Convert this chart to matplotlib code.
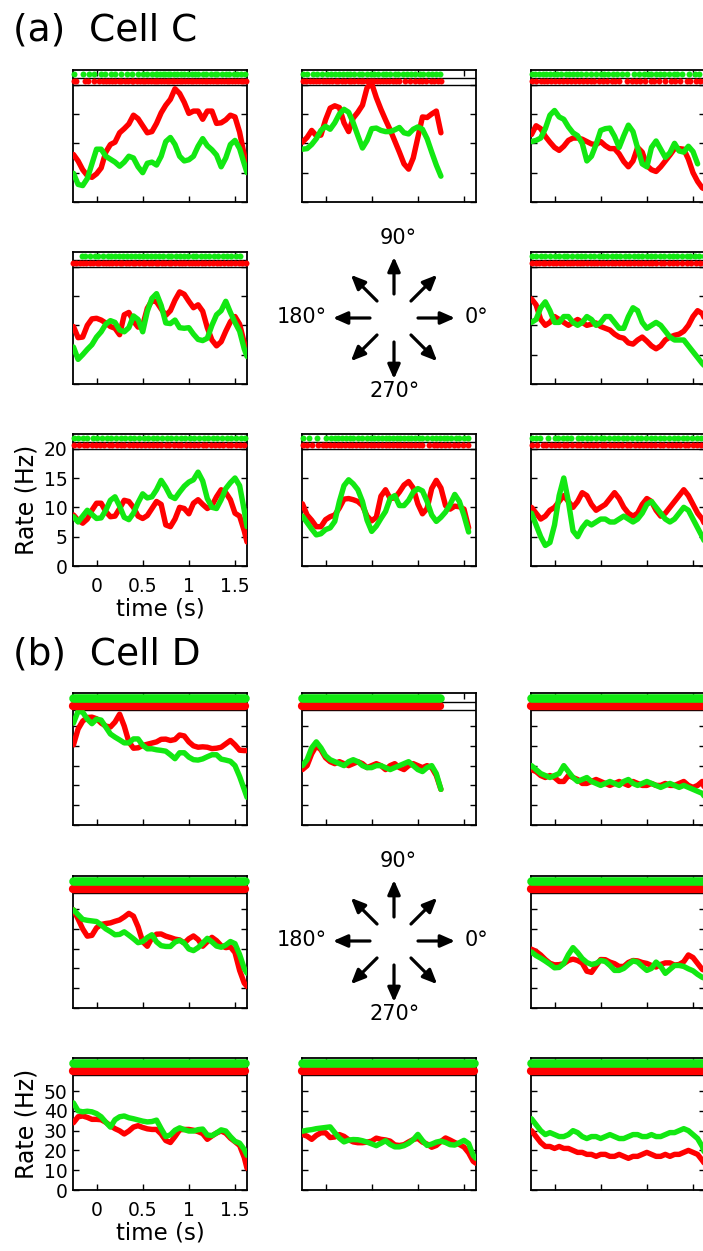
import matplotlib
matplotlib.use('Agg')
import matplotlib.pyplot as plt
import math

W, H = 703, 1251
RED = '#FF0000'
GREEN = '#12E812'

T = [-0.25, -0.2, -0.15, -0.1, -0.05, 0.0, 0.05, 0.1, 0.15, 0.2, 0.25, 0.3, 0.35, 0.4,
     0.45, 0.5, 0.55, 0.6, 0.65, 0.7, 0.75, 0.8, 0.85, 0.9, 0.95, 1.0, 1.05, 1.1, 1.15,
     1.2, 1.25, 1.3, 1.35, 1.4, 1.45, 1.5, 1.55, 1.6, 1.63]

x_ticks = [0, 0.5, 1, 1.5]
x_ticklabels = ['0', '0.5', '1', '1.5']
C_yticks = [0, 5, 10, 15, 20]
D_yticks = [0, 10, 20, 30, 40, 50]
direction_labels = ['0°', '90°', '180°', '270°']
directions = [0, 45, 90, 135, 180, 225, 270, 315]

# ---------------- Cell C : firing rates (Hz) ----------------
C_red = {
    135: [8.1, 7, 5.5, 4.5, 4.2, 4.8, 5.8, 8.5, 9.8, 10.2, 11.8, 12.5, 13.3, 14.8, 14.2, 13, 11.8, 12,
          13.4, 15.2, 16.5, 17.5, 19.3, 18.5, 17, 15.1, 15.5, 15.5, 14.1, 15.5, 15.5, 13.4, 13.5, 14,
          14.8, 14.5, 11.9, 8, 6],
    90: [10.2, 11, 12.2, 11.3, 11.4, 14, 16, 16.4, 16.1, 13.5, 12, 14.3, 15.3, 16.5, 19.5, 20.2, 17.8,
         15.8, 14, 12.3, 10.4, 8.5, 6.5, 5.6, 7.5, 11, 14.5, 14.4, 15, 15.5, 11.8],
    45: [11.5, 13.0, 12.5, 11.2, 10.2, 9.3, 8.8, 9.5, 10.5, 10.9, 10.9, 10.7, 10.3, 9.9, 9.8, 10.3, 9.6,
         9.1, 9.1, 8.2, 6.9, 6.0, 7.0, 9.3, 8.5, 6.2, 5.5, 5.2, 6.0, 7.0, 8.0, 9.1, 9.1, 9.0, 7.3, 5.0,
         3.5, 2.4, 2.2],
    180: [9.8, 7.9, 8.0, 10.0, 11.1, 11.2, 10.9, 10.4, 9.8, 9.5, 8.4, 11.8, 12.2, 10.7, 9.7, 10.0, 12.9,
          14.2, 14.0, 12.8, 11.7, 12.5, 14.3, 15.7, 15.3, 14.1, 13.0, 13.5, 12.4, 9.6, 7.5, 6.5, 7.2,
          9.0, 10.6, 11.5, 10.2, 7.0, 5.3],
    0: [14.5, 13.5, 11, 10, 10.5, 11.5, 11, 10.5, 10, 10.5, 11, 10.5, 10, 10.2, 10.4, 9.8, 9.5, 9.2,
        8.5, 8, 7.8, 7, 6.8, 7.5, 8, 7.3, 6.5, 6, 6.5, 7.5, 8, 8.3, 8.5, 9, 10, 11.5, 12.5, 12, 11],
    225: [8.7, 7.8, 7.3, 8.0, 9.5, 10.7, 10.7, 9.3, 8.4, 8.5, 9.8, 11.2, 11.0, 10.0, 8.5, 8.1, 8.6, 9.8,
          11.0, 10.5, 7.0, 6.7, 8.0, 10.0, 9.8, 8.9, 10.7, 11.3, 10.5, 9.8, 10.3, 11.8, 13.0, 12.5,
          11.3, 9.0, 8.5, 6.0, 4.1],
    270: [10.6, 8.7, 7.8, 6.7, 6.7, 7.9, 8.4, 8.7, 9.9, 11.4, 11.5, 11.3, 11.0, 10.3, 8.5, 7.7, 8.3,
          11.9, 13.0, 11.5, 11.6, 12.6, 13.8, 14.4, 13.3, 10.6, 8.9, 9.8, 13.2, 14.6, 13.3, 10.3, 9.7,
          10.2, 10.1, 9.7, 6.5],
    315: [10, 9, 8, 8.5, 9.5, 10, 11, 12, 11, 10, 11, 12.5, 12, 10.5, 9.5, 10, 10.5, 11.5, 12.5, 11.5,
          10, 9, 8.5, 9, 10.5, 11.5, 11, 9.5, 8.5, 9, 10, 11, 12, 13, 12, 10.5, 9, 8, 7],
}
C_green = {
    135: [4.9, 3.0, 2.8, 4.0, 6.5, 9.0, 9.0, 7.8, 7.3, 6.8, 6.1, 6.8, 7.8, 7.5, 6.0, 5.0, 6.6, 6.8, 6.3,
          7.8, 10.3, 11, 9.8, 7.8, 7.0, 7.2, 7.8, 9.5, 10.8, 9.6, 8.9, 8.0, 6.0, 7.5, 9.8, 10.5, 9.1,
          6.5, 5.0],
    90: [9.0, 9.1, 9.8, 10.8, 12.2, 12.9, 12.4, 13.5, 15, 15.8, 15.3, 13.5, 11.3, 9.2, 10.5, 12.5, 12.6,
         12.2, 12, 12, 12.3, 12.7, 11.8, 11.6, 12.4, 12.8, 12.4, 10.8, 8.5, 6.3, 4.4],
    45: [10.3, 10.5, 10.9, 12.5, 14.8, 15.6, 14.5, 14.1, 12.8, 11.8, 11.3, 10.0, 7.0, 7.8, 9.8, 12.2,
         12.5, 12.6, 11.2, 9.3, 11.3, 13.1, 12.0, 9.2, 6.5, 6.0, 9.3, 10.4, 9.0, 7.6, 8.4, 10.0, 8.7,
         8.5, 9.5, 8.6, 6.5],
    180: [6.3, 4.2, 5.0, 5.9, 6.7, 8.0, 8.9, 10.2, 10.8, 10.5, 9.2, 8.9, 9.6, 11.6, 11.0, 8.9, 12.4,
          14.6, 15.4, 13.4, 10.4, 10.3, 10.9, 9.6, 9.5, 9.6, 8.5, 7.6, 7.4, 7.8, 10.0, 11.8, 12.5, 14.1,
          12.2, 10.5, 9.0, 6.0, 4.7],
    0: [10.5, 11, 13, 14, 12.5, 10.5, 10.5, 11.5, 11.5, 10.5, 10, 10.5, 11.5, 11, 10, 10.5, 11.5, 11.5,
        10.5, 9.5, 9.5, 11.5, 13, 12.5, 10.5, 9.5, 10, 10.5, 10, 9, 8, 7.5, 7.5, 7.5, 6.5, 5.5, 4.5,
        3.5, 3],
    225: [8.4, 7.5, 8.5, 9.5, 8.8, 8.1, 8.2, 9.5, 11.2, 11.8, 10.2, 8.3, 7.9, 9.0, 10.8, 12.3, 11.6,
          11.8, 13.0, 14.6, 13.4, 11.9, 11.5, 12.6, 13.6, 14.3, 14.7, 16.0, 14.5, 11.5, 10.0, 9.8, 11.3,
          13.2, 14.2, 15.0, 13.7, 9.5, 6.7],
    270: [8.5, 7.4, 6.3, 5.3, 5.5, 6.2, 6.5, 7.6, 11.0, 13.7, 14.7, 14.0, 13.0, 11.0, 7.8, 5.9, 6.8,
          8.1, 9.3, 11.5, 12.0, 10.3, 10.3, 11.2, 12.6, 13.2, 12.8, 11.0, 8.7, 7.6, 8.3, 9.2, 10.5,
          12.2, 11.0, 8.6, 5.8],
    315: [9, 7, 5, 3.5, 4, 7, 12, 15, 11, 6, 5, 6.5, 7.5, 7, 7.5, 8, 8, 7.5, 7.5, 8, 8.5, 8, 7.5, 8, 9,
          10.5, 11, 10, 9, 8, 7.5, 8, 9, 10, 9.5, 8, 6.5, 5, 4],
}

# ---------------- Cell C : spike rasters (s) ----------------
C_red_spikes = {
    135: [-0.24, -0.22, -0.12, -0.09, -0.03, 0.03, 0.07, 0.1, 0.14, 0.17, 0.2, 0.24, 0.27, 0.31, 0.34,
          0.38, 0.4, 0.44, 0.47, 0.5, 0.53, 0.56, 0.59, 0.62, 0.64, 0.67, 0.7, 0.73, 0.76, 0.79, 0.82,
          0.84, 0.87, 0.9, 0.93, 0.96, 0.99, 1.02, 1.05, 1.08, 1.11, 1.14, 1.17, 1.2, 1.23, 1.26, 1.29,
          1.32, 1.35, 1.38, 1.41, 1.44, 1.47, 1.5, 1.53, 1.56, 1.59, 1.62],
    90: [-0.24, -0.21, -0.17, -0.14, -0.1, -0.07, -0.03, 0.0, 0.04, 0.07, 0.11, 0.14, 0.18, 0.21, 0.25,
         0.28, 0.31, 0.35, 0.38, 0.41, 0.45, 0.48, 0.5, 0.53, 0.56, 0.59, 0.62, 0.66, 0.69, 0.73, 0.76,
         0.8, 0.86, 0.92, 0.97, 1.01, 1.05, 1.09, 1.14, 1.18, 1.22, 1.25],
    45: [-0.24, -0.2, -0.15, -0.11, -0.08, -0.04, 0.01, 0.05, 0.09, 0.13, 0.18, 0.22, 0.26, 0.31, 0.35,
         0.39, 0.43, 0.48, 0.53, 0.57, 0.62, 0.66, 0.7, 0.78, 0.84, 0.88, 0.93, 0.98, 1.04, 1.08, 1.13,
         1.2, 1.26, 1.3, 1.36, 1.43, 1.47, 1.53, 1.58, 1.62],
    180: [-0.25, -0.22, -0.18, -0.15, -0.11, -0.07, -0.04, 0.0, 0.03, 0.07, 0.1, 0.14, 0.17, 0.21,
          0.25, 0.28, 0.32, 0.35, 0.39, 0.42, 0.46, 0.5, 0.53, 0.57, 0.6, 0.64, 0.67, 0.71, 0.74, 0.78,
          0.81, 0.85, 0.89, 0.93, 0.96, 1.0, 1.03, 1.07, 1.1, 1.14, 1.18, 1.22, 1.26, 1.3, 1.34, 1.38,
          1.42, 1.46, 1.5, 1.54, 1.58, 1.62],
    0: [-0.24, -0.2, -0.17, -0.13, -0.1, -0.06, -0.02, 0.02, 0.06, 0.09, 0.13, 0.17, 0.2, 0.24, 0.28,
        0.31, 0.35, 0.39, 0.43, 0.46, 0.5, 0.54, 0.58, 0.62, 0.66, 0.7, 0.74, 0.78, 0.82, 0.86, 0.9,
        0.94, 0.98, 1.02, 1.06, 1.1, 1.15, 1.19, 1.24, 1.28, 1.33, 1.38, 1.43, 1.48, 1.53, 1.58, 1.62],
    225: [-0.24, -0.19, -0.14, -0.1, -0.05, -0.01, 0.04, 0.08, 0.13, 0.17, 0.22, 0.26, 0.3, 0.35,
          0.39, 0.44, 0.48, 0.53, 0.57, 0.61, 0.66, 0.7, 0.75, 0.79, 0.84, 0.88, 0.92, 0.97, 1.01, 1.06,
          1.1, 1.15, 1.19, 1.24, 1.28, 1.33, 1.37, 1.42, 1.46, 1.51, 1.55, 1.6],
    270: [-0.24, -0.2, -0.15, -0.08, -0.03, 0.01, 0.05, 0.09, 0.13, 0.17, 0.21, 0.25, 0.29, 0.33,
          0.37, 0.41, 0.45, 0.49, 0.53, 0.57, 0.61, 0.65, 0.69, 0.73, 0.77, 0.81, 0.85, 0.89, 0.93,
          0.97, 1.01, 1.05, 1.12, 1.17, 1.21, 1.25, 1.29, 1.34, 1.39, 1.44, 1.49, 1.54],
    315: [-0.24, -0.19, -0.13, -0.09, -0.04, 0.0, 0.05, 0.1, 0.14, 0.19, 0.24, 0.28, 0.33, 0.37, 0.42,
          0.46, 0.51, 0.55, 0.6, 0.64, 0.69, 0.73, 0.78, 0.82, 0.87, 0.91, 0.96, 1.0, 1.05, 1.09, 1.14,
          1.18, 1.23, 1.27, 1.32, 1.36, 1.41, 1.45, 1.5, 1.54, 1.59, 1.62],
}
C_green_spikes = {
    135: [-0.24, -0.15, -0.08, -0.03, 0.05, 0.09, 0.16, 0.2, 0.27, 0.33, 0.38, 0.45, 0.5, 0.55, 0.6,
          0.64, 0.66, 0.69, 0.72, 0.74, 0.77, 0.8, 0.84, 0.87, 0.91, 0.95, 0.99, 1.03, 1.07, 1.1, 1.15,
          1.19, 1.24, 1.28, 1.31, 1.36, 1.4, 1.44, 1.49, 1.52, 1.57, 1.61],
    90: [-0.24, -0.2, -0.14, -0.09, -0.04, 0.02, 0.06, 0.1, 0.15, 0.19, 0.23, 0.27, 0.31, 0.36, 0.4,
         0.45, 0.49, 0.53, 0.57, 0.62, 0.66, 0.7, 0.75, 0.79, 0.84, 0.88, 0.93, 0.97, 1.02, 1.06, 1.11,
         1.15, 1.2, 1.24],
    45: [-0.24, -0.21, -0.17, -0.13, -0.09, -0.05, -0.01, 0.03, 0.07, 0.12, 0.16, 0.2, 0.24, 0.29,
         0.34, 0.4, 0.45, 0.5, 0.54, 0.58, 0.63, 0.68, 0.73, 0.79, 0.86, 0.92, 0.97, 1.01, 1.05, 1.1,
         1.14, 1.19, 1.24, 1.29, 1.33, 1.38, 1.46, 1.52, 1.56],
    180: [-0.16, -0.12, -0.07, -0.02, 0.02, 0.07, 0.12, 0.16, 0.2, 0.24, 0.29, 0.33, 0.37, 0.42, 0.46,
          0.5, 0.55, 0.59, 0.63, 0.68, 0.72, 0.77, 0.81, 0.86, 0.9, 0.95, 0.99, 1.04, 1.08, 1.13, 1.18,
          1.22, 1.27, 1.32, 1.37, 1.41, 1.46, 1.51, 1.55],
    0: [-0.24, -0.2, -0.15, -0.1, -0.05, 0.0, 0.05, 0.1, 0.14, 0.19, 0.24, 0.29, 0.33, 0.38, 0.43,
        0.48, 0.52, 0.57, 0.62, 0.67, 0.71, 0.76, 0.81, 0.86, 0.9, 0.95, 1.0, 1.05, 1.09, 1.14, 1.19,
        1.24, 1.28, 1.33, 1.38, 1.43, 1.47, 1.52, 1.57, 1.62],
    225: [-0.24, -0.2, -0.15, -0.1, -0.04, 0.01, 0.06, 0.11, 0.16, 0.21, 0.26, 0.31, 0.36, 0.41,
          0.46, 0.51, 0.56, 0.61, 0.66, 0.71, 0.76, 0.81, 0.86, 0.91, 0.96, 1.01, 1.06, 1.11, 1.16,
          1.21, 1.26, 1.31, 1.36, 1.41, 1.46, 1.51, 1.56, 1.61],
    270: [-0.24, -0.18, -0.09, 0.0, 0.06, 0.1, 0.14, 0.18, 0.22, 0.26, 0.3, 0.35, 0.4, 0.45, 0.49,
          0.53, 0.57, 0.61, 0.65, 0.69, 0.73, 0.77, 0.81, 0.85, 0.89, 0.93, 0.97, 1.01, 1.05, 1.1,
          1.15, 1.2, 1.24, 1.28, 1.32, 1.36, 1.41, 1.45, 1.5, 1.54],
    315: [-0.24, -0.2, -0.16, -0.07, 0.0, 0.04, 0.09, 0.14, 0.18, 0.25, 0.3, 0.35, 0.4, 0.45, 0.5,
          0.54, 0.59, 0.64, 0.69, 0.74, 0.79, 0.84, 0.89, 0.94, 0.99, 1.04, 1.09, 1.14, 1.19, 1.24,
          1.29, 1.34, 1.39, 1.44, 1.49, 1.54, 1.59],
}

# ---------------- Cell D : firing rates (Hz) ----------------
D_red = {
    135: [40.5, 48.5, 52.5, 54.3, 54.5, 53.7, 51.5, 50, 49.5, 52, 56, 50, 42, 38.8, 39, 40.2, 40.8,
          41.4, 42, 43.3, 43.4, 42.7, 43.2, 45.5, 45, 42, 40, 39.3, 39.5, 39.3, 38.6, 38.8, 39.3, 41,
          42.7, 40.5, 37.8, 37.6, 37.6],
    90: [28, 30, 36, 40, 38, 34, 32, 31, 32, 31, 30, 31, 32, 31, 29, 30, 31, 30, 28, 30, 31, 29, 28,
         30, 31, 30, 29, 30, 29, 25, 18],
    45: [28, 27, 25, 24, 25, 24, 22, 22, 25, 24, 23, 21, 21, 22, 23, 22, 21, 20, 21, 22, 21, 20, 22,
         21, 20, 20, 21, 20, 20, 21, 20, 20, 21, 22, 20, 19, 20, 22, 18],
    180: [49.6, 45, 40, 36.3, 36.7, 40.5, 42.2, 42.7, 43, 43.8, 44.5, 46, 47.8, 46.4, 41, 33.5, 31.2,
          35.5, 37.3, 37.4, 36.3, 35.6, 34.8, 34.4, 32.8, 35, 36.4, 34.6, 31.2, 33.5, 35.7, 34, 31.5,
          30.5, 30.9, 28, 19, 12.6, 10.9],
    0: [29.7, 28.6, 26.8, 24.5, 22.6, 21.8, 21.9, 22.4, 24, 24.7, 24, 22.7, 18.6, 18, 21.3, 24.5, 24.4,
        23.2, 22.4, 21, 21, 23, 24, 23.8, 23, 22.5, 21.5, 20.7, 22, 22.8, 22.8, 21.7, 22, 23.4, 26.8,
        25.5, 22.5, 19.5, 19],
    225: [34, 37, 37.4, 36.7, 35.7, 35.7, 35.5, 34.2, 32.5, 31, 29.9, 28.3, 29.8, 31.8, 32.5, 31.6,
          30.9, 30.6, 30.6, 28.3, 25, 24, 27, 30.4, 30.6, 30.6, 30.2, 29.5, 28.5, 25.6, 27.3, 28.8,
          29.8, 28.7, 26.2, 24.4, 22.5, 16.5, 11],
    270: [28.1, 27.2, 25.6, 27.6, 28.9, 28.9, 26.5, 26.8, 28, 27.1, 25.4, 24.3, 23.9, 23.9, 24.2,
          24.7, 26.2, 25.6, 25.3, 24.7, 22.8, 22.5, 22.9, 24.3, 25.5, 26.1, 24.2, 23.2, 21.6, 22.5,
          24.5, 26.3, 25.2, 24, 23, 21.7, 18.8, 14.5, 13.5],
    315: [30, 27, 24, 22, 22, 21, 22, 21, 21, 20, 19, 19, 18, 18, 17, 18, 18, 17, 17, 18, 17, 16, 17,
          17, 18, 19, 18, 17, 17, 18, 17, 18, 18, 19, 20, 19, 18, 15, 13],
}
D_green = {
    135: [51.5, 57.5, 57, 53.5, 51.2, 53.5, 53, 49.5, 46, 44.4, 43, 41.5, 41.5, 43.5, 43.5, 40.3,
          38.5, 38.5, 38, 37.7, 37.3, 35.5, 33.5, 36.5, 36.5, 34.3, 33, 32.8, 33.4, 34.5, 35.5, 35.5,
          33.3, 32.8, 32.2, 30, 24.5, 18, 14],
    90: [30, 33, 39, 42, 39, 35, 33, 32, 31, 30, 32, 33, 32, 30, 29, 29, 30, 30, 29, 28, 29, 30, 31,
         32, 30, 28, 27, 29, 30, 26, 18],
    45: [30, 28, 26, 25, 24, 25, 26, 30, 27, 24, 22, 23, 24, 22, 21, 20, 21, 22, 21, 20, 22, 23, 21,
         20, 21, 22, 21, 20, 19, 20, 21, 20, 19, 20, 19, 18, 17, 16, 14],
    180: [49.6, 47.2, 44.8, 44.3, 44, 43.7, 42, 40, 38.6, 37, 37.2, 38.5, 36.8, 35, 33, 33.6, 35.6,
          37, 33.4, 31.5, 31.1, 31.1, 33.3, 34.2, 32.8, 29.8, 29, 30.5, 32.8, 35.2, 33.4, 31.3, 30.7,
          31.8, 33.6, 32.5, 27, 20, 17.6],
    0: [28.3, 26.5, 25.2, 23.7, 22.1, 20.3, 20.5, 22.4, 27, 30.5, 28, 25, 23, 22, 22.5, 24, 23.5,
        21.5, 19, 19, 20, 22, 23.8, 23.2, 21, 19, 20, 23.2, 21, 17.5, 19.5, 21.5, 21.5, 21, 19.8,
        18.8, 17, 15.5, 15],
    225: [44, 40, 39.5, 39.8, 39.5, 38.6, 37, 34.3, 31.8, 35.5, 37, 37.4, 36.5, 36, 35.4, 34.8, 34.4,
          34.6, 35.3, 31, 27, 27.9, 30.2, 31.4, 30.5, 29.8, 29.8, 30.5, 30.8, 27.8, 27.5, 28.8, 30.4,
          29.8, 27, 24.6, 23.7, 20.5, 17.5],
    270: [29.7, 30.2, 30.5, 31, 31.3, 31.6, 31.9, 29, 26.2, 24.3, 25.2, 25.5, 25.4, 24.9, 24.2, 23.3,
          22.4, 23.6, 24.9, 23, 21.8, 21.8, 22.4, 23.6, 25.4, 28.1, 25, 22.5, 23.2, 24.2, 24.7, 24,
          22.9, 22.7, 23.9, 25.1, 23.5, 17.5, 16],
    315: [36, 33, 30, 28, 29, 28, 27, 27, 28, 30, 29, 27, 26, 27, 27, 26, 27, 28, 27, 26, 26, 27, 28,
          28, 27, 27, 28, 27, 27, 28, 29, 29, 30, 31, 30, 28, 26, 22, 18],
}
# Cell D rasters are so dense they form solid bands: (first spike, last spike) in s
D_red_band = {135: (-0.25, 1.61), 90: (-0.25, 1.24), 45: (-0.25, 1.61), 180: (-0.25, 1.61),
              0: (-0.25, 1.61), 225: (-0.25, 1.61), 270: (-0.25, 1.61), 315: (-0.25, 1.61)}
D_green_band = {135: (-0.25, 1.61), 90: (-0.25, 1.24), 45: (-0.25, 1.61), 180: (-0.25, 1.61),
                0: (-0.25, 1.61), 225: (-0.25, 1.61), 270: (-0.25, 1.61), 315: (-0.25, 1.61)}

# ---------------- layout ----------------
plt.rcParams['font.family'] = ['DejaVu Sans']
fig = plt.figure(figsize=(W / 100, H / 100), dpi=100)

col_left = [73, 302, 531]
panel_w, panel_h = 174, 132
C_rows = [70, 252, 434]
D_rows = [693, 876, 1058]
grid_pos = {135: (0, 0), 90: (0, 1), 45: (0, 2), 180: (1, 0), 0: (1, 2),
            225: (2, 0), 270: (2, 1), 315: (2, 2)}


def make_axes(left, top):
    ax = fig.add_axes([left / W, 1 - (top + panel_h) / H, panel_w / W, panel_h / H])
    ax.set_xlim(-0.255, 1.63)
    ax.set_xticks(x_ticks)
    ax.tick_params(direction='in', top=True, right=True, length=4, width=1.0,
                   labelsize=13.5, pad=4)
    ax.tick_params(axis='x', pad=8)
    for s in ax.spines.values():
        s.set_linewidth(1.3)
    return ax


def draw_rates(ax, red, green):
    ax.plot(T[:len(red)], red, color=RED, lw=3.9, solid_capstyle='round',
            solid_joinstyle='round', zorder=3)
    ax.plot(T[:len(green)], green, color=GREEN, lw=3.9, solid_capstyle='round',
            solid_joinstyle='round', zorder=4)


def label_axes(ax, yticks):
    ax.set_xticklabels(x_ticklabels)
    ax.set_yticklabels([str(v) for v in yticks])
    ax.set_xlabel('time (s)', fontsize=16.5, labelpad=1)
    ax.set_ylabel('Rate (Hz)', fontsize=17, labelpad=4)


for d in directions:
    if d not in grid_pos:
        continue
    r, c = grid_pos[d]
    # ---- Cell C ----
    ax = make_axes(col_left[c], C_rows[r])
    ax.set_ylim(0, 22.5)
    ax.set_yticks(C_yticks)
    ax.axhline(20.0, color='k', lw=1.0, zorder=2)
    ax.axhline(21.15, color='k', lw=1.0, zorder=2)
    draw_rates(ax, C_red[d], C_green[d])
    ax.plot(C_red_spikes[d], [20.55] * len(C_red_spikes[d]), 'o', ms=4.3, color=RED,
            mec='none', zorder=5, clip_on=False)
    ax.plot(C_green_spikes[d], [21.85] * len(C_green_spikes[d]), 'o', ms=4.3, color=GREEN,
            mec='none', zorder=5, clip_on=False)
    if d == 225:
        label_axes(ax, C_yticks)
    else:
        ax.set_xticklabels([])
        ax.set_yticklabels([])

    # ---- Cell D ----
    ax = make_axes(col_left[c], D_rows[r])
    ax.set_ylim(0, 66.7)
    ax.set_yticks(D_yticks)
    ax.axhline(58.3, color='k', lw=1.0, zorder=2)
    ax.axhline(62.3, color='k', lw=1.0, zorder=2)
    draw_rates(ax, D_red[d], D_green[d])
    ax.plot(D_red_band[d], [60.2, 60.2], color=RED, lw=6.0, solid_capstyle='round',
            zorder=5, clip_on=False)
    ax.plot(D_green_band[d], [64.4, 64.4], color=GREEN, lw=6.2, solid_capstyle='round',
            zorder=6, clip_on=False)
    if d == 225:
        label_axes(ax, D_yticks)
    else:
        ax.set_xticklabels([])
        ax.set_yticklabels([])

# ---------------- overlay: titles and direction arrows ----------------
ov = fig.add_axes([0, 0, 1, 1])
ov.set_xlim(0, W)
ov.set_ylim(H, 0)
ov.axis('off')

ov.text(13, 40, '(a)  Cell C', fontsize=27, ha='left', va='baseline')
ov.text(13, 664, '(b)  Cell D', fontsize=27, ha='left', va='baseline')

for cy in (318, 941):
    cx = 394
    for a in directions:
        ca, sa = math.cos(math.radians(a)), math.sin(math.radians(a))
        ov.annotate('', xy=(cx + 61 * ca, cy - 61 * sa), xytext=(cx + 24 * ca, cy - 24 * sa),
                    arrowprops=dict(arrowstyle='-|>,head_length=0.5,head_width=0.22',
                                    lw=2.3, color='k', mutation_scale=17,
                                    shrinkA=0, shrinkB=0))
    ov.text(398, cy - 80, direction_labels[1], fontsize=15, ha='center', va='center')
    ov.text(395, cy + 73, direction_labels[3], fontsize=15, ha='center', va='center')
    ov.text(302, cy - 1, direction_labels[2], fontsize=15, ha='center', va='center')
    ov.text(476, cy - 1, direction_labels[0], fontsize=15, ha='center', va='center')

fig.savefig('out.png', dpi=100)
